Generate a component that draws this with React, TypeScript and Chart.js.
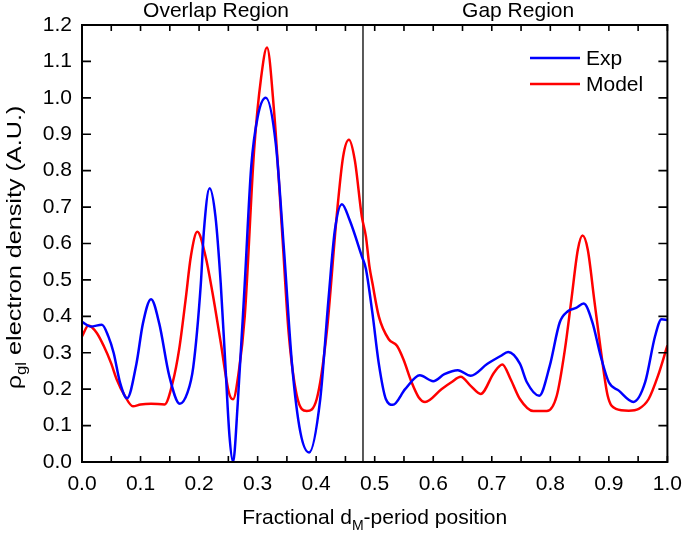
import React, { useEffect, useRef } from 'react';
import { Chart, registerables } from 'chart.js';

Chart.register(...registerables);

// ---- data ----
const expX = [0.000, 0.015, 0.034, 0.045, 0.054, 0.065, 0.077, 0.093, 0.104, 0.118, 0.132, 0.149, 0.167, 0.180, 0.190, 0.203, 0.208, 0.218, 0.228, 0.237, 0.245, 0.252, 0.258, 0.266, 0.278, 0.289, 0.300, 0.314, 0.331, 0.345, 0.359, 0.373, 0.388, 0.407, 0.421, 0.432, 0.444, 0.457, 0.478, 0.485, 0.496, 0.507, 0.519, 0.531, 0.552, 0.577, 0.600, 0.619, 0.642, 0.664, 0.692, 0.715, 0.728, 0.748, 0.760, 0.781, 0.799, 0.816, 0.830, 0.844, 0.857, 0.872, 0.886, 0.900, 0.917, 0.942, 0.962, 0.979, 0.990, 1.000];
const expY = [0.385, 0.372, 0.377, 0.345, 0.300, 0.218, 0.175, 0.270, 0.380, 0.447, 0.380, 0.237, 0.160, 0.190, 0.260, 0.490, 0.630, 0.752, 0.674, 0.490, 0.264, 0.070, 0.000, 0.160, 0.490, 0.810, 0.947, 1.000, 0.874, 0.583, 0.264, 0.082, 0.026, 0.173, 0.446, 0.637, 0.708, 0.665, 0.565, 0.530, 0.410, 0.270, 0.173, 0.157, 0.200, 0.238, 0.222, 0.241, 0.252, 0.237, 0.269, 0.291, 0.302, 0.270, 0.219, 0.182, 0.264, 0.383, 0.414, 0.423, 0.435, 0.383, 0.291, 0.219, 0.196, 0.165, 0.219, 0.346, 0.392, 0.390];

const modelX = [0.000, 0.011, 0.025, 0.037, 0.050, 0.059, 0.073, 0.087, 0.100, 0.118, 0.141, 0.155, 0.166, 0.177, 0.186, 0.197, 0.211, 0.223, 0.237, 0.251, 0.258, 0.268, 0.278, 0.294, 0.306, 0.316, 0.328, 0.342, 0.353, 0.367, 0.384, 0.401, 0.418, 0.435, 0.446, 0.456, 0.466, 0.478, 0.485, 0.491, 0.496, 0.507, 0.524, 0.538, 0.549, 0.563, 0.575, 0.586, 0.614, 0.631, 0.647, 0.664, 0.681, 0.704, 0.718, 0.732, 0.748, 0.771, 0.794, 0.811, 0.825, 0.836, 0.847, 0.855, 0.864, 0.875, 0.886, 0.898, 0.912, 0.934, 0.951, 0.968, 0.984, 1.000];
const modelY = [0.345, 0.375, 0.355, 0.319, 0.270, 0.228, 0.182, 0.153, 0.158, 0.160, 0.158, 0.219, 0.310, 0.446, 0.565, 0.632, 0.565, 0.464, 0.328, 0.190, 0.172, 0.250, 0.400, 0.856, 1.056, 1.138, 0.965, 0.628, 0.355, 0.182, 0.140, 0.173, 0.355, 0.674, 0.838, 0.885, 0.829, 0.674, 0.619, 0.537, 0.492, 0.400, 0.337, 0.319, 0.282, 0.219, 0.178, 0.165, 0.200, 0.219, 0.234, 0.209, 0.187, 0.246, 0.268, 0.228, 0.173, 0.140, 0.140, 0.182, 0.310, 0.446, 0.583, 0.622, 0.583, 0.446, 0.310, 0.182, 0.146, 0.141, 0.146, 0.173, 0.237, 0.320];

const seriesLabels = ['Exp', 'Model'];
const seriesColors = ['#0000ff', '#ff0000'];
const xMin = 0, xMax = 1, xStep = 0.05;
const yMin = 0, yMax = 1.2, yStep = 0.1;
const dividerX = 0.48;
const regionLabels = ['Overlap Region', 'Gap Region'];
const regionCenters = [0.229, 0.745];
const xTitle = ['Fractional d', 'M', '-period position'];
const yTitle = ['\u03c1', 'gl', ' electron density (A.U.)'];

const FONT = '"Liberation Sans", Arial, sans-serif';

function toPoints(xs: number[], ys: number[]) {
  return xs.map((x, i) => ({ x, y: ys[i] }));
}

const decorPlugin = {
  id: 'decor',
  beforeDatasetsDraw(chart: any) {
    const { ctx, chartArea: a, scales } = chart;
    const xd = scales.x.getPixelForValue(dividerX);
    ctx.save();
    ctx.strokeStyle = '#000';
    ctx.lineWidth = 1.3;
    ctx.beginPath();
    ctx.moveTo(xd, a.top);
    ctx.lineTo(xd, a.bottom);
    ctx.stroke();
    ctx.restore();
  },
  afterDraw(chart: any) {
    const { ctx, chartArea: a, scales } = chart;
    const xs = scales.x, ys = scales.y;
    ctx.save();
    ctx.strokeStyle = '#000';
    ctx.lineWidth = 2;
    ctx.strokeRect(a.left, a.top, a.right - a.left, a.bottom - a.top);
    // inward ticks
    ctx.lineWidth = 1.6;
    ctx.beginPath();
    xs.ticks.forEach((t: any) => {
      const px = xs.getPixelForValue(t.value);
      ctx.moveTo(px, a.bottom);
      ctx.lineTo(px, a.bottom - 6);
      ctx.moveTo(px, a.top);
      ctx.lineTo(px, a.top + 6);
    });
    ys.ticks.forEach((t: any) => {
      const py = ys.getPixelForValue(t.value);
      ctx.moveTo(a.left, py);
      ctx.lineTo(a.left + 9, py);
      ctx.moveTo(a.right, py);
      ctx.lineTo(a.right - 9, py);
    });
    ctx.stroke();

    const big = `21px ${FONT}`;
    const small = `14px ${FONT}`;

    // region labels
    ctx.fillStyle = '#000';
    ctx.font = big;
    ctx.textAlign = 'center';
    ctx.textBaseline = 'alphabetic';
    regionLabels.forEach((lab, i) => {
      ctx.fillText(lab, xs.getPixelForValue(regionCenters[i]), 17);
    });

    // legend
    chart.data.datasets.forEach((ds: any, i: number) => {
      const ly = 58 + i * 26;
      ctx.strokeStyle = ds.borderColor;
      ctx.lineWidth = 2.5;
      ctx.beginPath();
      ctx.moveTo(530, ly);
      ctx.lineTo(580, ly);
      ctx.stroke();
      ctx.fillStyle = '#000';
      ctx.textAlign = 'left';
      ctx.textBaseline = 'middle';
      ctx.font = big;
      ctx.fillText(ds.label, 586, ly + 1);
    });

    // x title with subscript
    ctx.textBaseline = 'alphabetic';
    ctx.textAlign = 'left';
    ctx.font = big;
    const w0 = ctx.measureText(xTitle[0]).width;
    const w2 = ctx.measureText(xTitle[2]).width;
    ctx.font = small;
    const w1 = ctx.measureText(xTitle[1]).width;
    const total = w0 + w1 + w2;
    const cx = (a.left + a.right) / 2;
    const sx = cx - total / 2;
    const by = 524;
    ctx.font = big;
    ctx.fillText(xTitle[0], sx, by);
    ctx.font = small;
    ctx.fillText(xTitle[1], sx + w0, by + 6);
    ctx.font = big;
    ctx.fillText(xTitle[2], sx + w0 + w1, by);

    // y title rotated
    ctx.save();
    const cy = (a.top + a.bottom) / 2 + 4;
    ctx.translate(21, cy);
    ctx.rotate(-Math.PI / 2);
    ctx.scale(1.2, 1);
    ctx.font = big;
    const v0 = ctx.measureText(yTitle[0]).width;
    const v2 = ctx.measureText(yTitle[2]).width;
    ctx.font = small;
    const v1 = ctx.measureText(yTitle[1]).width;
    const vt = v0 + v1 + v2;
    const vx = -vt / 2;
    ctx.font = big;
    ctx.fillText(yTitle[0], vx, 0);
    ctx.font = small;
    ctx.fillText(yTitle[1], vx + v0, 5);
    ctx.font = big;
    ctx.fillText(yTitle[2], vx + v0 + v1, 0);
    ctx.restore();

    ctx.restore();
  },
};

export default function App() {
  const ref = useRef<HTMLCanvasElement | null>(null);
  useEffect(() => {
    if (!ref.current) return;
    const chart = new Chart(ref.current, {
      type: 'line',
      data: {
        datasets: [
          {
            label: seriesLabels[0],
            data: toPoints(expX, expY),
            borderColor: seriesColors[0],
            backgroundColor: seriesColors[0],
            borderWidth: 2.5,
            pointRadius: 0,
            cubicInterpolationMode: 'monotone',
            fill: false,
          },
          {
            label: seriesLabels[1],
            data: toPoints(modelX, modelY),
            borderColor: seriesColors[1],
            backgroundColor: seriesColors[1],
            borderWidth: 2.5,
            pointRadius: 0,
            cubicInterpolationMode: 'monotone',
            fill: false,
          },
        ],
      },
      options: {
        animation: false,
        responsive: false,
        maintainAspectRatio: false,
        layout: { padding: { top: 25, right: 16, left: 0, bottom: 0 } },
        plugins: { legend: { display: false }, tooltip: { enabled: false } },
        scales: {
          x: {
            type: 'linear',
            min: xMin,
            max: xMax,
            grid: { display: false, drawTicks: false },
            border: { display: false },
            afterFit: (s: any) => { s.height = 72; },
            ticks: {
              stepSize: xStep,
              autoSkip: false,
              maxRotation: 0,
              padding: 10,
              color: '#000',
              font: { family: FONT, size: 21 },
              callback: (v: any) => {
                const n = Math.round(Number(v) * 20);
                return n % 2 === 0 ? (n / 20).toFixed(1) : '';
              },
            },
          },
          y: {
            min: yMin,
            max: yMax,
            grid: { display: false, drawTicks: false },
            border: { display: false },
            afterFit: (s: any) => { s.width = 82; },
            ticks: {
              stepSize: yStep,
              padding: 10,
              color: '#000',
              font: { family: FONT, size: 21 },
              callback: (v: any) => Number(v).toFixed(1),
            },
          },
        },
      },
      plugins: [decorPlugin],
    } as any);
    return () => chart.destroy();
  }, []);
  return (
    <div style={{ position: 'fixed', left: 0, top: 0, width: 692, height: 534, background: '#fff' }}>
      <canvas ref={ref} width={692} height={534} style={{ width: 692, height: 534, display: 'block' }} />
    </div>
  );
}
